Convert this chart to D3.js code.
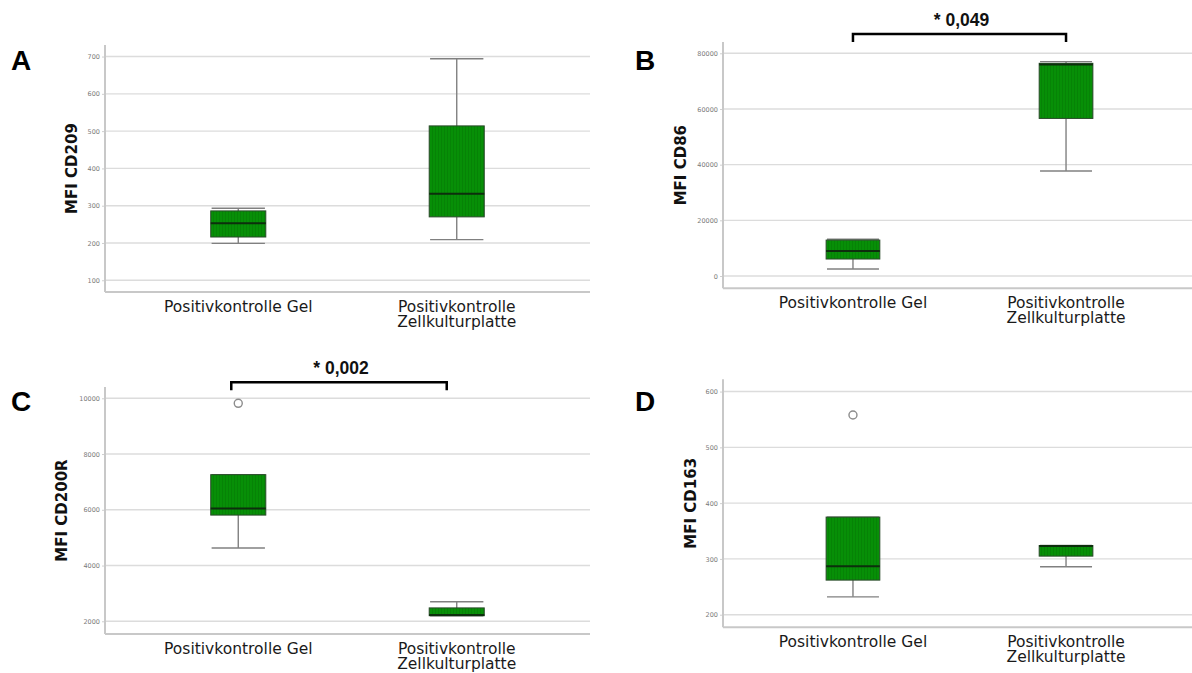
<!DOCTYPE html>
<html>
<head>
<meta charset="utf-8">
<script src="https://cdn.jsdelivr.net/npm/d3@7"></script>
<style>
  html, body { margin: 0; padding: 0; background: #fff; }
  svg { display: block; }
</style>
</head>
<body>
<svg id="chart" width="1192" height="673"></svg>
<script>
// Groups compared in every panel
const categories = ["Positivkontrolle Gel", "Positivkontrolle Zellkulturplatte"];

// Panel letters and y-axis titles
const panelLetters = ["A", "B", "C", "D"];
const yTitles = ["MFI CD209", "MFI CD86", "MFI CD200R", "MFI CD163"];

// Box-plot statistics per panel: [Gel, Zellkulturplatte]
const whiskerLow  = [[199, 209],     [2500, 37700],   [4630, 2200], [232, 286]];
const q1          = [[216, 270],     [6100, 56600],   [5810, 2200], [262, 305]];
const median      = [[253, 332],     [9000, 76000],   [6050, 2230], [287, 323]];
const q3          = [[286, 514],     [12900, 76400],  [7260, 2480], [375, 324]];
const whiskerHigh = [[293, 694],     [13200, 77000],  [7260, 2700], [375, 324]];
const outliers    = [[[], []],       [[], []],        [[9820], []], [[558], []]];

// Y tick labels per panel
const tickValues = [
  [100, 200, 300, 400, 500, 600, 700],
  [0, 20000, 40000, 60000, 80000],
  [2000, 4000, 6000, 8000, 10000],
  [200, 300, 400, 500, 600]
];

// Significance annotations (empty = none)
const pLabels = ["", "* 0,049", "* 0,002", ""];

// Plot frames and y domains of the four panels
const layout = [
  { left: 105, right: 590,  top: 45,    bottom: 292,   domain: [68.5, 731],     titleX: 72,  letterX: 11,  letterY: 70,  bracketY: 0,     bracketShift: [0, 0] },
  { left: 723, right: 1196, top: 42,    bottom: 288.3, domain: [-4417, 84057],  titleX: 681, letterX: 635, letterY: 70,  bracketY: 34,    bracketShift: [0, 0] },
  { left: 105, right: 590,  top: 387,   bottom: 634,   domain: [1544, 10405],   titleX: 62,  letterX: 11,  letterY: 411, bracketY: 382.3, bracketShift: [-7, -10] },
  { left: 723, right: 1196, top: 379.3, bottom: 627.3, domain: [177.4, 622],    titleX: 691, letterX: 635, letterY: 411, bracketY: 0,     bracketShift: [0, 0] }
];

const svg = d3.select("#chart");

// Faint vertical hatching inside the boxes
const defs = svg.append("defs");
const pat = defs.append("pattern")
  .attr("id", "boxHatch")
  .attr("patternUnits", "userSpaceOnUse")
  .attr("width", 3).attr("height", 10);
pat.append("rect").attr("width", 3).attr("height", 10).attr("fill", "#078f07");
pat.append("line").attr("x1", 0.5).attr("x2", 0.5).attr("y1", 0).attr("y2", 10)
  .attr("stroke", "#057a05").attr("stroke-width", 0.6);

const boxFill = "url(#boxHatch)";
const boxStroke = "#2b4a2b";
const whiskerColor = "#808080";

panelLetters.forEach((letter, p) => {
  const L = layout[p];
  const g = svg.append("g");

  const x = d3.scalePoint().domain(categories).range([L.left, L.right]).padding(0.61);
  const y = d3.scaleLinear().domain(L.domain).range([L.bottom, L.top]);
  const step = x.step();
  const boxW = step * 0.252;
  const capW = step * 0.122;

  // Gridlines
  g.append("g").selectAll("line").data(tickValues[p]).join("line")
    .attr("x1", L.left).attr("x2", L.right)
    .attr("y1", d => y(d)).attr("y2", d => y(d))
    .attr("stroke", "#dcdcdc").attr("stroke-width", 1.4);

  // Y axis with small tick labels
  const yAxis = d3.axisLeft(y).tickValues(tickValues[p]).tickSize(3).tickPadding(2).tickFormat(d3.format("d"));
  const ya = g.append("g").attr("transform", `translate(${L.left},0)`).call(yAxis);
  ya.select(".domain").remove();
  ya.selectAll(".tick line").attr("stroke", "#cfcfcf");
  ya.selectAll(".tick text")
    .attr("font-family", "DejaVu Sans, sans-serif")
    .attr("font-size", 6.5)
    .attr("fill", "#7a7a7a");

  // Axis frame lines
  g.append("line").attr("x1", L.left).attr("x2", L.left).attr("y1", L.top).attr("y2", L.bottom)
    .attr("stroke", "#c8c8c8").attr("stroke-width", 2);
  g.append("line").attr("x1", L.left).attr("x2", L.right).attr("y1", L.bottom).attr("y2", L.bottom)
    .attr("stroke", "#c8c8c8").attr("stroke-width", 2);

  // Category labels (second word wraps to a new line)
  categories.forEach(cat => {
    const words = cat.split(" ");
    const lines = cat.endsWith("Gel") ? [cat] : [words[0], words.slice(1).join(" ")];
    const t = g.append("text")
      .attr("x", x(cat)).attr("y", L.bottom + 20)
      .attr("text-anchor", "middle")
      .attr("font-family", "DejaVu Sans, sans-serif")
      .attr("font-size", 15.5)
      .attr("fill", "#1a1a1a");
    lines.forEach((ln, i) => {
      t.append("tspan").attr("x", x(cat)).attr("dy", i === 0 ? 0 : 15).text(ln);
    });
  });

  // Boxes, whiskers, caps, medians
  const boxes = categories.map((c, i) => ({
    cat: c, lo: whiskerLow[p][i], q1: q1[p][i], med: median[p][i], q3: q3[p][i], hi: whiskerHigh[p][i], out: outliers[p][i]
  }));

  const bg = g.append("g");
  boxes.forEach(b => {
    const cx = x(b.cat);
    bg.append("line").attr("x1", cx).attr("x2", cx).attr("y1", y(b.q3)).attr("y2", y(b.hi))
      .attr("stroke", whiskerColor).attr("stroke-width", 1.4);
    bg.append("line").attr("x1", cx).attr("x2", cx).attr("y1", y(b.q1)).attr("y2", y(b.lo))
      .attr("stroke", whiskerColor).attr("stroke-width", 1.4);
    bg.append("line").attr("x1", cx - capW).attr("x2", cx + capW).attr("y1", y(b.hi)).attr("y2", y(b.hi))
      .attr("stroke", whiskerColor).attr("stroke-width", 1.4);
    bg.append("line").attr("x1", cx - capW).attr("x2", cx + capW).attr("y1", y(b.lo)).attr("y2", y(b.lo))
      .attr("stroke", whiskerColor).attr("stroke-width", 1.4);
    bg.append("rect")
      .attr("x", cx - boxW / 2).attr("width", boxW)
      .attr("y", y(b.q3)).attr("height", Math.max(1, y(b.q1) - y(b.q3)))
      .attr("fill", boxFill).attr("stroke", boxStroke).attr("stroke-width", 1);
    bg.append("line").attr("x1", cx - boxW / 2).attr("x2", cx + boxW / 2).attr("y1", y(b.med)).attr("y2", y(b.med))
      .attr("stroke", "#0d2e0d").attr("stroke-width", 2);
    b.out.forEach(o => {
      bg.append("circle").attr("cx", cx).attr("cy", y(o)).attr("r", 4)
        .attr("fill", "#fff").attr("stroke", "#8c8c8c").attr("stroke-width", 1.4);
    });
  });

  // Y-axis title
  g.append("text")
    .attr("transform", `translate(${L.titleX},${(L.top + L.bottom) / 2}) rotate(-90)`)
    .attr("text-anchor", "middle").attr("dominant-baseline", "central")
    .attr("font-family", "DejaVu Sans, sans-serif")
    .attr("font-weight", "bold").attr("font-size", 15)
    .attr("fill", "#111")
    .text(yTitles[p]);

  // Panel letter
  g.append("text")
    .attr("x", L.letterX).attr("y", L.letterY)
    .attr("font-family", "Liberation Sans, Arial, sans-serif")
    .attr("font-weight", "bold").attr("font-size", 28)
    .attr("fill", "#000")
    .text(letter);

  // Significance bracket
  if (pLabels[p]) {
    const xa = x(categories[0]) + L.bracketShift[0];
    const xb = x(categories[1]) + L.bracketShift[1];
    const by = L.bracketY;
    g.append("path")
      .attr("d", `M${xa},${by + 8} L${xa},${by} L${xb},${by} L${xb},${by + 8}`)
      .attr("fill", "none").attr("stroke", "#000").attr("stroke-width", 2.5);
    g.append("text")
      .attr("x", (xa + xb) / 2 + 2).attr("y", by - 8)
      .attr("text-anchor", "middle")
      .attr("font-family", "Liberation Sans, Arial, sans-serif")
      .attr("font-weight", "bold").attr("font-size", 17.5)
      .attr("fill", "#111")
      .text(pLabels[p]);
  }
});
</script>
</body>
</html>
